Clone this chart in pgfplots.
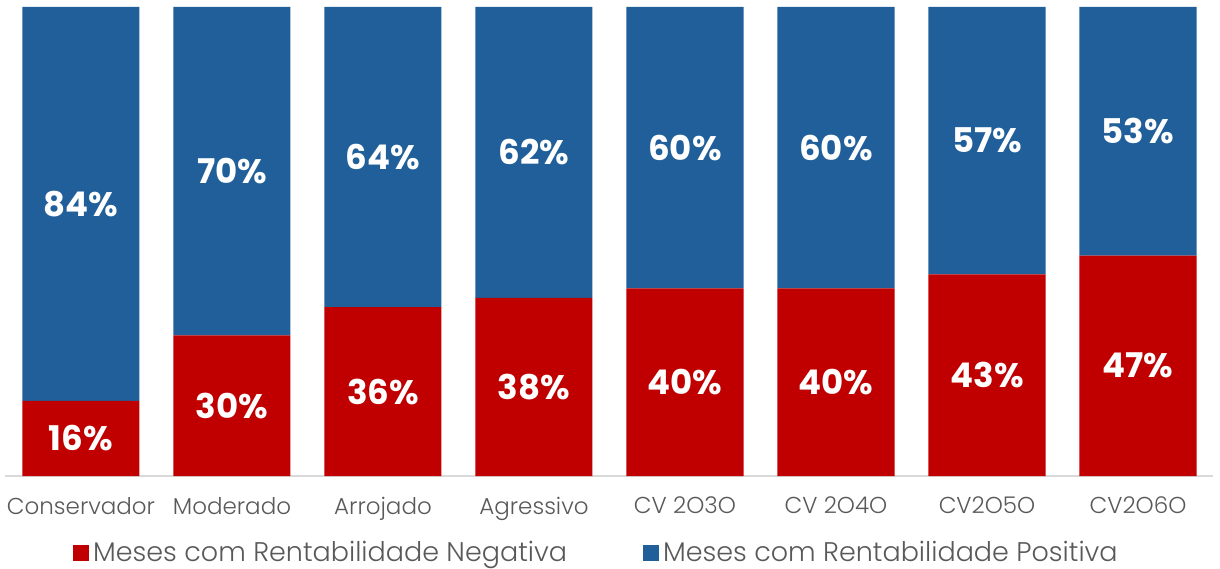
\documentclass[border=0pt]{standalone}
\usepackage{fontspec}
\setmainfont{Poppins}
\newfontfamily\poplight{Poppins Light}
\usepackage{pgfplots}
\pgfplotsset{compat=1.18}
\definecolor{neg}{HTML}{C00000}
\definecolor{pos}{HTML}{215F9A}
\definecolor{txt}{HTML}{595959}

\pgfplotstableread{
x neg pos
0 16 84
1 30 70
2 36 64
3 38 62
4 40 60
5 40 60
6 43 57
7 47 53
}\perfil

\begin{document}
\begin{tikzpicture}
\begin{axis}[
    at={(2.75pt,46pt)}, anchor=south west,
    scale only axis, width=604pt, height=234.5pt,
    ybar stacked, bar width=58.5pt,
    xmin=-0.5, xmax=7.5, ymin=0, ymax=100,
    axis x line=bottom, axis y line=none,
    axis line style={draw=black!15, line width=1pt, -},
    xtick=data,
    xticklabels={Conservador, Moderado, Arrojado, Agressivo, CV 2O3O, CV 2O4O, CV2O5O, CV2O6O},
    major tick length=0pt,
    xticklabel style={font=\poplight\fontsize{11.5}{11.5}\selectfont, text=txt, yshift=-7pt},
    /pgf/number format/assume math mode=true,
    nodes near coords={\pgfmathprintnumber{\pgfplotspointmeta}\%},
    point meta=rawy,
    every node near coord/.append style={
        font=\bfseries\fontsize{17}{17}\selectfont, text=white, anchor=center},
    legend style={at={(0.49,-0.164)}, anchor=center, draw=none, fill=none,
        legend columns=2, font=\poplight\fontsize{13.5}{13.5}\selectfont, text=txt,
        /tikz/every even column/.append style={column sep=36pt}},
    legend image code/.code={\fill[#1] (0pt,-4pt) rectangle (8pt,4pt);},
]
\addplot[fill=neg, draw=none] table[x=x, y=neg] {\perfil};
\addplot[fill=pos, draw=none] table[x=x, y=pos] {\perfil};
\legend{Meses com Rentabilidade Negativa, Meses com Rentabilidade Positiva}
\end{axis}
\pgfresetboundingbox
\path (0,0) rectangle (610pt,284pt);
\end{tikzpicture}
\end{document}
